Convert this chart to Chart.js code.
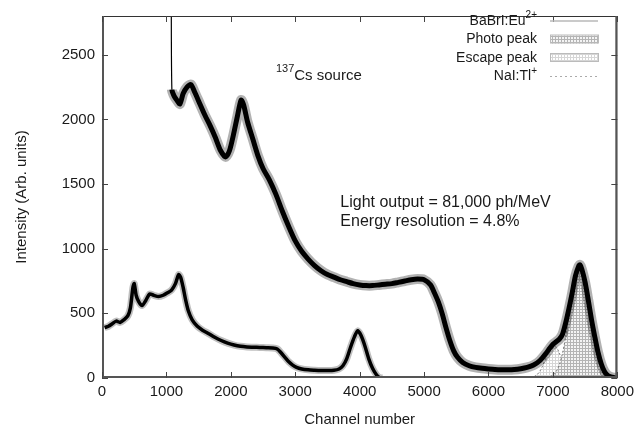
<!DOCTYPE html>
<html>
<head>
<meta charset="utf-8">
<script src="https://cdn.jsdelivr.net/npm/chart.js@4"></script>
<style>
  html, body { margin: 0; padding: 0; background: #fff; }
  #wrap { width: 639px; height: 435px; }
</style>
</head>
<body>
<div id="wrap"><canvas id="spectrum" width="639" height="435"></canvas></div>
<script>
// --- DATOS ---
const xTicks = [0, 1000, 2000, 3000, 4000, 5000, 6000, 7000, 8000];
const yTicks = [0, 500, 1000, 1500, 2000, 2500];

// BaBrI:Eu2+ espectro
const babriChannels = [1075, 1085, 1120, 1160, 1210, 1260, 1320, 1380, 1440, 1520, 1600, 1680, 1760, 1840, 1920, 1980,
  2040, 2100, 2160, 2200, 2260, 2340, 2420, 2500, 2600, 2700, 2800, 2900, 3000, 3100, 3200, 3300, 3400, 3500,
  3600, 3700, 3800, 3900, 4000, 4100, 4200, 4300, 4400, 4500, 4600, 4700, 4800, 4900, 5000, 5100, 5160, 5220,
  5280, 5340, 5400, 5460, 5520, 5600, 5700, 5800, 5900, 6000, 6100, 6200, 6300, 6400, 6500, 6600, 6700, 6800,
  6900, 6950, 7000, 7050, 7100, 7150, 7200, 7250, 7300, 7350, 7400, 7420, 7450, 7500, 7550, 7600, 7650, 7700,
  7750, 7800, 7850, 7900, 7950, 8000];
const babriCounts = [2950, 2230, 2180, 2150, 2120, 2200, 2250, 2270, 2210, 2120, 2030, 1950, 1860, 1760, 1710, 1760,
  1880, 2020, 2150, 2110, 1980, 1850, 1720, 1620, 1530, 1420, 1290, 1170, 1060, 980, 920, 870, 830, 800,
  780, 760, 745, 730, 720, 715, 715, 720, 725, 730, 740, 750, 760, 765, 760, 720, 660, 590,
  500, 390, 290, 210, 160, 120, 95, 82, 75, 70, 66, 64, 64, 66, 72, 82, 100, 135,
  195, 230, 260, 280, 300, 340, 430, 540, 660, 790, 865, 875, 840, 740, 600, 450, 320, 200,
  110, 50, 20, 8, 3, 0];

// NaI:Tl+ espectro
const naiChannels = [40, 100, 160, 220, 280, 340, 400, 440, 480, 500, 530, 570, 620, 680, 740, 800, 880, 950, 1020,
  1080, 1140, 1190, 1220, 1260, 1300, 1340, 1400, 1480, 1560, 1650, 1750, 1850, 1950, 2050, 2150, 2250, 2350,
  2450, 2550, 2650, 2720, 2780, 2840, 2900, 2960, 3020, 3100, 3200, 3300, 3400, 3500, 3600, 3680, 3740, 3800,
  3860, 3920, 3970, 4020, 4080, 4140, 4200, 4260, 4300, 4350];
const naiCounts = [390, 400, 420, 440, 430, 450, 480, 540, 700, 730, 640, 590, 560, 600, 650, 640, 630, 640, 660,
  680, 730, 800, 780, 700, 600, 520, 450, 400, 370, 345, 315, 290, 270, 255, 245, 240, 238,
  236, 234, 232, 225, 195, 160, 125, 100, 82, 70, 63, 60, 58, 58, 60, 70, 95, 150,
  240, 320, 365, 330, 250, 150, 75, 25, 5, 0];

// Ajustes gaussianos
const photoChannels = [6900, 7000, 7050, 7100, 7150, 7200, 7250, 7300, 7350, 7400, 7410, 7450, 7500, 7550, 7600,
  7650, 7700, 7750, 7800, 7850, 7900, 7950];
const photoCounts = [3, 21, 49, 103, 194, 326, 493, 665, 803, 868, 870, 840, 727, 563, 410, 270, 160, 80, 35, 12, 3, 0];
const escapeChannels = [6650, 6700, 6750, 6800, 6850, 6900, 6950, 7000, 7050, 7100, 7150, 7200, 7250, 7300, 7350, 7400];
const escapeCounts = [3, 9, 24, 55, 105, 168, 225, 254, 241, 193, 129, 73, 35, 14, 5, 1];

const FONT = '"Liberation Sans", Arial, Helvetica, sans-serif';
const TEXT = '#1a1a1a';

const toXY = (xs, ys) => xs.map((x, i) => ({ x: x, y: ys[i] }));

const canvas = document.getElementById('spectrum');
const ctx = canvas.getContext('2d');

function makeGrid(bg, line) {
    const c = document.createElement('canvas');
    c.width = 3; c.height = 3;
    const g = c.getContext('2d');
    g.fillStyle = bg; g.fillRect(0, 0, 3, 3);
    g.fillStyle = line;
    g.fillRect(0, 0, 3, 1);
    g.fillRect(0, 0, 1, 3);
    return ctx.createPattern(c, 'repeat');
}
const photoFill = makeGrid('#f4f4f4', '#b4b4b4');
const escapeFill = makeGrid('#ffffff', '#d6d6d6');

// texto con superíndice
function drawSup(c, x, y, base, sup, align, size) {
    c.font = size + 'px ' + FONT;
    const wb = c.measureText(base).width;
    c.font = Math.round(size * 0.7) + 'px ' + FONT;
    const ws = c.measureText(sup).width;
    let start = x;
    if (align === 'right') start = x - wb - ws;
    c.textAlign = 'left';
    c.textBaseline = 'middle';
    c.font = size + 'px ' + FONT;
    c.fillText(base, start, y);
    c.font = Math.round(size * 0.7) + 'px ' + FONT;
    c.fillText(sup, start + wb, y - size * 0.4);
}

const decorPlugin = {
    id: 'decor',
    afterDraw(chart) {
        const c = chart.ctx;
        const a = chart.chartArea;
        const sx = chart.scales.x, sy = chart.scales.y;
        c.save();
        // marco y marcas hacia dentro
        c.strokeStyle = '#333';
        c.lineWidth = 1;
        c.strokeRect(a.left + 0.5, a.top + 0.5, a.right - a.left - 1, a.bottom - a.top - 1);
        c.lineWidth = 2;
        c.strokeStyle = '#555';
        c.beginPath();
        c.moveTo(a.left + 1, a.top); c.lineTo(a.left + 1, a.bottom);
        c.moveTo(a.left, a.bottom - 1); c.lineTo(a.right, a.bottom - 1);
        c.moveTo(a.right - 1, a.top); c.lineTo(a.right - 1, a.bottom);
        c.stroke();
        c.lineWidth = 1;
        c.strokeStyle = '#444';
        c.beginPath();
        xTicks.forEach(v => {
            const px = Math.round(sx.getPixelForValue(v)) + 0.5;
            c.moveTo(px, a.bottom); c.lineTo(px, a.bottom - 6);
            c.moveTo(px, a.top); c.lineTo(px, a.top + 6);
        });
        yTicks.forEach(v => {
            const py = Math.round(sy.getPixelForValue(v)) + 0.5;
            c.moveTo(a.left, py); c.lineTo(a.left + 6, py);
            c.moveTo(a.right, py); c.lineTo(a.right - 6, py);
        });
        c.stroke();

        // anotaciones
        c.fillStyle = TEXT;
        const csX = sx.getPixelForValue(2700), csY = sy.getPixelForValue(2335);
        c.font = '11px ' + FONT;
        c.textAlign = 'left';
        c.textBaseline = 'middle';
        c.fillText('137', csX, csY - 7);
        const w137 = c.measureText('137').width;
        c.font = '15px ' + FONT;
        c.fillText('Cs source', csX + w137, csY);
        const lx = sx.getPixelForValue(3700);
        c.font = '16px ' + FONT;
        c.fillText('Light output = 81,000 ph/MeV', lx, sy.getPixelForValue(1360));
        c.fillText('Energy resolution = 4.8%', lx, sy.getPixelForValue(1210));

        // leyenda
        const textRight = a.left + 435;
        const s0 = a.left + 448, s1 = a.left + 496;
        const rows = [21, 39.5, 58, 76.5];
        c.fillStyle = TEXT;
        drawSup(c, textRight, rows[0], 'BaBrI:Eu', '2+', 'right', 14);
        c.font = '14px ' + FONT;
        c.textAlign = 'right';
        c.fillText('Photo peak', textRight, rows[1]);
        c.fillText('Escape peak', textRight, rows[2]);
        drawSup(c, textRight, rows[3], 'NaI:Tl', '+', 'right', 14);

        c.strokeStyle = '#b8b8b8';
        c.lineWidth = 1.5;
        c.beginPath(); c.moveTo(s0, rows[0]); c.lineTo(s1, rows[0]); c.stroke();
        c.fillStyle = photoFill;
        c.fillRect(s0, rows[1] - 4, s1 - s0, 8);
        c.strokeStyle = '#bbb'; c.lineWidth = 1;
        c.strokeRect(s0 + 0.5, rows[1] - 4.5, s1 - s0, 8);
        c.fillStyle = escapeFill;
        c.fillRect(s0, rows[2] - 4, s1 - s0, 8);
        c.strokeRect(s0 + 0.5, rows[2] - 4.5, s1 - s0, 8);
        c.setLineDash([2, 3]);
        c.strokeStyle = '#aaa';
        c.beginPath(); c.moveTo(s0, rows[3]); c.lineTo(s1, rows[3]); c.stroke();
        c.restore();
    }
};

const babriData = toXY(babriChannels, babriCounts);
const naiData = toXY(naiChannels, naiCounts);
const firstThin = (w, thin) => c => (c.p0DataIndex === 0 ? thin : w);
const plain = v => String(v);

new Chart(canvas, {
    type: 'line',
    data: {
        datasets: [
            { label: 'BaBrI:Eu2+', data: babriData, borderColor: '#000', borderWidth: 5, pointRadius: 0,
              borderJoinStyle: 'round', tension: 0.25, order: 0, segment: { borderWidth: firstThin(5, 1.2) } },
            { label: 'BaBrI halo', data: babriData, borderColor: 'rgba(0,0,0,0.3)', borderWidth: 10, pointRadius: 0,
              borderJoinStyle: 'round', tension: 0.25, order: 1, segment: { borderWidth: firstThin(10, 0.1) } },
            { label: 'NaI:Tl+', data: naiData, borderColor: '#000', borderWidth: 3.5, pointRadius: 0, tension: 0.25, order: 0 },
            { label: 'NaI halo', data: naiData, borderColor: 'rgba(0,0,0,0.25)', borderWidth: 7, pointRadius: 0, tension: 0.25, order: 1 },
            { label: 'Photo peak', data: toXY(photoChannels, photoCounts), borderColor: '#777', borderWidth: 1,
              borderDash: [2, 2], backgroundColor: photoFill, fill: 'origin', pointRadius: 0, tension: 0.3, order: 2 },
            { label: 'Escape peak', data: toXY(escapeChannels, escapeCounts), borderColor: '#777', borderWidth: 1,
              borderDash: [2, 2], backgroundColor: escapeFill, fill: 'origin', pointRadius: 0, tension: 0.3, order: 3 }
        ]
    },
    options: {
        responsive: false,
        animation: false,
        layout: { padding: { left: 0, right: 19, top: 7, bottom: 0 } },
        scales: {
            x: {
                type: 'linear', min: 0, max: 8000,
                afterBuildTicks: s => { s.ticks = xTicks.map(v => ({ value: v })); },
                afterFit: s => { s.height = 57; },
                grid: { display: false, drawTicks: false },
                border: { display: false },
                ticks: { color: TEXT, font: { family: FONT, size: 15 }, padding: 5, maxRotation: 0, autoSkip: false, callback: plain },
                title: { display: true, text: 'Channel number', color: TEXT, font: { family: FONT, size: 15 },
                         padding: { top: 0, bottom: 6 } }
            },
            y: {
                type: 'linear', min: 0, max: 2800,
                afterBuildTicks: s => { s.ticks = yTicks.map(v => ({ value: v })); },
                afterFit: s => { s.width = 102; },
                grid: { display: false, drawTicks: false },
                border: { display: false },
                ticks: { color: TEXT, font: { family: FONT, size: 15 }, padding: 7, callback: plain },
                title: { display: true, text: 'Intensity (Arb. units)', color: TEXT, font: { family: FONT, size: 15 },
                         padding: { top: 13, bottom: 0 } }
            }
        },
        plugins: { legend: { display: false }, tooltip: { enabled: false } }
    },
    plugins: [decorPlugin]
});
</script>
</body>
</html>
